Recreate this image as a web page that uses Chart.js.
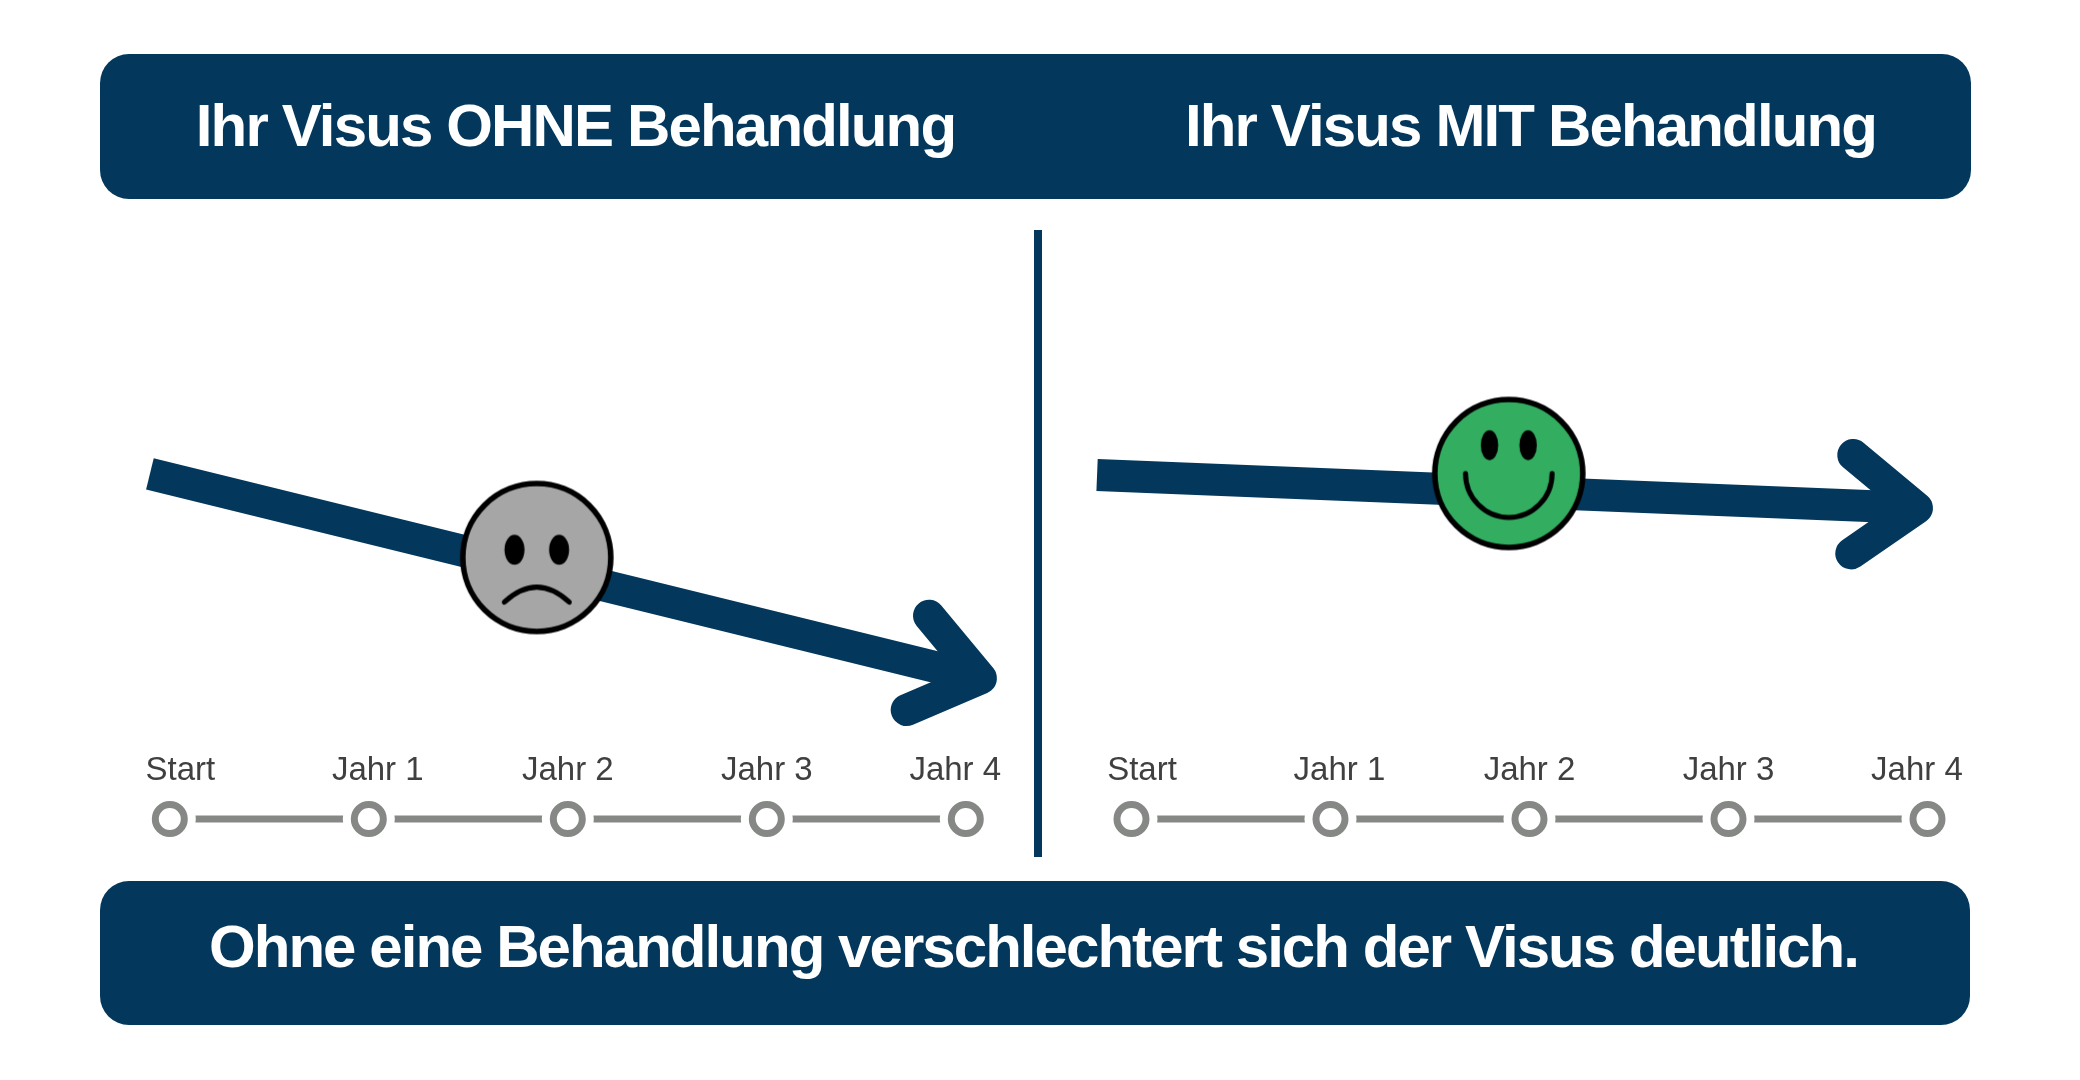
<!DOCTYPE html>
<html lang="de"><head><meta charset="utf-8">
<script src="https://cdn.jsdelivr.net/npm/chart.js@4"></script>
<style>
html,body{margin:0;padding:0;background:#fff;width:2080px;height:1080px;overflow:hidden;font-family:"Liberation Sans",Arial,sans-serif}
.banner{position:absolute;background:#03385c;border-radius:29px}
.t{position:absolute;color:#fff;font-weight:700;font-size:60px;letter-spacing:-1.85px;line-height:70px;white-space:nowrap;transform:translateX(-50%)}
.divider{position:absolute;left:1034px;top:230px;width:8px;height:627px;background:#03385c}
canvas{position:absolute}
</style></head><body>
<div class="banner" style="left:100px;top:54px;width:1871px;height:145px"></div>
<div class="banner" style="left:100px;top:881px;width:1870px;height:144px"></div>
<div class="t" style="left:575.5px;top:91px">Ihr Visus OHNE Behandlung</div>
<div class="t" style="left:1530.5px;top:91px">Ihr Visus MIT Behandlung</div>
<div class="t" style="left:1033.5px;top:912px;letter-spacing:-1.95px">Ohne eine Behandlung verschlechtert sich der Visus deutlich.</div>
<div class="divider"></div>
<div style="position:absolute;left:100px;top:230px;width:934px;height:627px"><canvas id="left"></canvas></div>
<div style="position:absolute;left:1042px;top:230px;width:958px;height:627px"><canvas id="right"></canvas></div>
<script>
const categories = ["Start","Jahr 1","Jahr 2","Jahr 3","Jahr 4"];
const years = [0,1,2,3,4];
const timelineValues = [0,0,0,0,0];

const ohneShaftYears = [-0.10,4.076];
const ohneShaftVisus = [58.6,23.9];
const ohneHeadYears = [3.815,4.076,3.703];
const ohneHeadVisus = [34.5,23.9,18.5];
const ohneFaceYear = [1.844];
const ohneFaceVisus = [44.4];

const mitShaftYears = [-0.173,3.947];
const mitShaftVisus = [58.4,52.8];
const mitHeadYears = [3.627,3.947,3.617];
const mitHeadVisus = [61.8,52.8,45.1];
const mitFaceYear = [1.896];
const mitFaceVisus = [58.66];

const NAVY="#03385c", GREY="#868886";
const zip=(a,b)=>a.map((x,i)=>({x,y:b[i]}));

function face(fill,happy){
  const S=170,c=document.createElement('canvas');c.width=c.height=S;
  const g=c.getContext('2d'),m=S/2;
  g.translate(m,m);
  g.beginPath();g.arc(0,0,74,0,Math.PI*2);g.fillStyle=fill;g.fill();
  g.lineWidth=5.6;g.strokeStyle="#000";g.stroke();
  g.fillStyle="#000";
  const ex=happy?19.3:22.3, ey=happy?-28.3:-7.7, rx=happy?8.7:10;
  for(const s of [-1,1]){g.beginPath();g.ellipse(s*ex,ey,rx,15,0,0,Math.PI*2);g.fill();}
  g.lineCap="round";g.lineWidth=5;g.beginPath();
  if(happy){g.ellipse(0,0,43.3,44,0,0,Math.PI);}
  else{g.moveTo(-32.5,44.7);g.quadraticCurveTo(0,14.7,32.5,44.7);}
  g.stroke();
  return c;
}

function panel(id,min,max,shaftX,shaftY,headX,headY,faceX,faceY,fill,happy){
  new Chart(document.getElementById(id),{
    type:'scatter',
    data:{datasets:[
      {data:zip(years,timelineValues),showLine:true,borderColor:GREY,borderWidth:7,pointRadius:26,pointBackgroundColor:"#fff",pointBorderWidth:0,clip:false,order:5},
      {data:zip(years,timelineValues),showLine:false,pointRadius:14.5,pointBackgroundColor:"#fff",pointBorderColor:GREY,pointBorderWidth:7,clip:false,order:4},
      {data:zip(shaftX,shaftY),showLine:true,borderColor:NAVY,borderWidth:32,borderCapStyle:'butt',pointRadius:0,clip:false,order:3},
      {data:zip(headX,headY),showLine:true,borderColor:NAVY,borderWidth:32,borderCapStyle:'round',borderJoinStyle:'round',pointRadius:0,clip:false,order:2},
      {data:zip(faceX,faceY),showLine:false,pointStyle:face(fill,happy),pointRadius:77,clip:false,order:1}
    ]},
    options:{
      responsive:true,maintainAspectRatio:false,animation:false,devicePixelRatio:1,
      events:[],
      layout:{autoPadding:false,padding:{left:0,right:0,top:0,bottom:38}},
      plugins:{legend:{display:false},tooltip:{enabled:false},title:{display:false}},
      scales:{
        x:{type:'linear',min,max,position:'bottom',
          grid:{display:false,drawTicks:false},border:{display:false},
          afterBuildTicks(s){const nudge=[0.053,0.045,0,0,-0.053];s.ticks=years.map((y,i)=>({value:y+nudge[i]}));},
          afterFit(s){s.height=0;s.paddingLeft=0;s.paddingRight=0;s.paddingTop=0;s.paddingBottom=0;},
          ticks:{autoSkip:false,maxRotation:0,mirror:true,padding:28.1,color:"#404040",
            font:{family:'"Liberation Sans"',size:33},
            callback:(v,i)=>categories[i]}},
        y:{type:'linear',min:0,max:100,display:false}
      }
    }
  });
}
panel('left',-0.3508,4.3427,ohneShaftYears,ohneShaftVisus,ohneHeadYears,ohneHeadVisus,ohneFaceYear,ohneFaceVisus,"#a6a6a6",false);
panel('right',-0.4497,4.3643,mitShaftYears,mitShaftVisus,mitHeadYears,mitHeadVisus,mitFaceYear,mitFaceVisus,"#33ad60",true);
</script></body></html>
